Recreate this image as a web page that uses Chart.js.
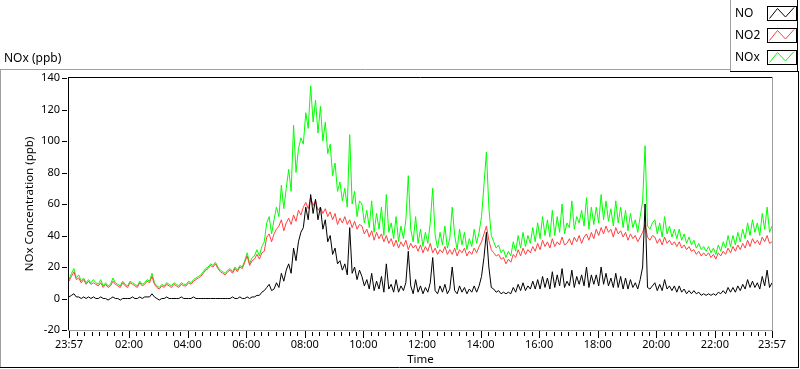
<!DOCTYPE html>
<html><head><meta charset="utf-8">
<script src="https://cdn.jsdelivr.net/npm/chart.js@4/dist/chart.umd.min.js"></script>
<style>html,body{margin:0;padding:0;background:#fff;overflow:hidden}#wrap{position:relative;width:800px;height:369px}</style>
</head><body><div id="wrap"><canvas id="c" width="800" height="369"></canvas></div>
<script>
// sampling interval of the values below (minutes since 23:57)
const STEP_MIN = 5;

const NO = [
1,2,3,1,1,0,1,0,1,0,1,0,
0,1,0,0,-1,0,1,0,0,-1,0,0,
0,0,1,0,0,1,0,1,1,1,3,1,
0,-1,0,0,1,0,0,0,0,0,1,0,
0,0,0,1,0,0,0,0,0,0,0,0,
0,0,0,0,0,0,0,1,0,0,1,0,
0,1,0,1,1,2,2,4,5,7,9,5,
6,10,7,16,11,18,22,16,32,24,36,42,
45,58,50,66,54,63,50,58,44,50,36,40,
28,32,22,24,18,22,15,45,16,20,12,18,
14,8,12,6,16,5,11,6,14,4,22,6,
9,4,12,4,8,5,10,30,8,3,12,4,
8,3,7,4,10,26,5,3,8,4,9,3,
6,20,5,3,8,4,7,3,6,4,8,4,
8,14,26,42,20,7,6,4,5,3,4,3,
4,3,7,4,9,5,10,5,8,6,11,6,
12,6,14,7,13,6,17,7,15,8,19,7,
11,8,18,7,14,9,15,8,20,7,15,9,
15,8,20,9,16,8,13,7,16,7,14,6,
13,6,12,7,10,6,12,20,60,7,6,8,
10,5,9,5,12,6,8,5,8,4,8,4,
6,3,5,3,5,3,4,2,3,2,3,2,
3,2,4,3,5,3,7,4,7,4,8,5,
9,6,12,7,11,7,10,6,14,8,18,7,10
];

const NO2 = [
11,14,17,12,13,10,12,9,11,9,10,9,
8,10,7,9,7,8,11,9,8,7,10,8,
7,10,9,8,7,10,8,9,11,10,14,9,
7,6,8,7,9,8,7,9,8,7,9,8,
8,10,9,11,12,13,14,16,18,19,21,20,
22,19,17,16,15,17,18,16,19,17,20,19,
23,27,21,24,25,28,25,29,30,39,41,36,
41,44,46,50,43,48,51,47,53,49,56,53,
58,61,57,64,59,62,56,58,54,57,52,55,
50,54,47,51,48,52,47,50,45,49,44,47,
46,41,44,39,43,37,42,38,41,36,40,35,
38,33,37,32,36,33,37,31,35,32,34,30,
34,29,33,30,35,29,32,28,31,29,33,28,
31,28,32,27,31,29,32,27,30,28,32,29,
33,36,41,46,37,31,29,27,28,25,26,22,
25,23,28,26,31,27,32,28,31,29,33,30,
35,31,37,33,36,32,38,33,36,34,39,34,
35,38,34,39,36,40,35,39,41,37,42,38,
44,40,45,41,46,42,44,39,45,41,43,39,
42,37,41,38,40,36,39,42,47,39,37,40,
39,35,38,34,39,35,37,34,36,33,36,32,
34,31,33,30,31,28,30,27,29,27,29,26,
28,25,29,27,30,28,32,29,33,30,34,31,
35,32,37,33,38,35,37,34,39,36,40,35,36
];

const NOX = [
12,16,19,13,15,11,13,10,12,10,12,10,
9,12,8,10,8,9,13,10,9,8,11,9,
8,11,10,9,8,11,9,10,12,11,16,10,
8,7,9,8,10,9,8,10,9,8,10,9,
9,11,10,12,13,14,15,17,19,20,22,21,
23,20,18,17,16,18,19,17,20,18,21,20,
24,29,22,26,27,31,27,33,36,48,52,41,
50,58,52,72,57,70,82,68,110,80,95,102,
98,118,108,135,112,126,105,122,100,112,92,98,
78,86,68,74,62,70,58,104,60,68,52,62,
60,48,56,45,62,42,54,44,58,40,66,42,
48,38,52,36,46,38,50,78,44,36,52,35,
44,33,42,35,48,70,40,32,42,34,46,32,
38,58,40,31,44,34,42,31,38,33,44,35,
42,52,72,93,58,40,36,32,34,29,31,26,
30,27,36,30,40,32,42,33,40,35,45,36,
48,38,52,40,50,39,56,40,52,42,60,41,
48,45,62,44,52,48,56,46,64,44,58,47,
58,48,66,50,62,49,57,46,62,48,58,45,
56,43,54,45,50,42,52,62,97,46,44,48,
50,41,48,39,52,41,46,39,44,38,44,37,
41,35,39,34,37,32,35,31,33,30,33,29,
32,28,34,30,36,32,40,33,40,34,42,36,
44,38,48,40,50,42,48,40,54,44,58,42,46
];

const SERIES_NAMES = ['NO', 'NO2', 'NOx'];
const TICK_MINUTES = [0, 123, 243, 363, 483, 603, 723, 843, 963, 1083, 1203, 1323, 1440];
const TICK_LABELS = ['23:57', '02:00', '04:00', '06:00', '08:00', '10:00', '12:00', '14:00', '16:00', '18:00', '20:00', '22:00', '23:57'];
const Y_MIN = -20, Y_MAX = 140, Y_STEP = 20;
const PANEL_TITLE = 'NOx (ppb)';
const Y_TITLE = 'NOx Concentration (ppb)';
const X_TITLE = 'Time';

const COLORS = ['#000000', '#ff4040', '#00ff00'];
const FONT = 'Noto Sans';

function toPoints(arr) { return arr.map((v, i) => ({ x: i * STEP_MIN, y: v })); }

const framePlugin = {
  id: 'frame',
  afterDraw(chart) {
    const ctx = chart.ctx, a = chart.chartArea, xs = chart.scales.x, ys = chart.scales.y;
    ctx.save();
    ctx.lineWidth = 1;
    const line = (x1, y1, x2, y2) => { ctx.beginPath(); ctx.moveTo(x1, y1); ctx.lineTo(x2, y2); ctx.stroke(); };
    // outer panel
    ctx.strokeStyle = '#a0a0a0';
    line(0, 69.5, 731, 69.5);
    line(0.5, 69, 0.5, 368);
    ctx.strokeStyle = '#000';
    line(0, 367.5, 799, 367.5);
    line(798.5, 71, 798.5, 368);
    // plot frame
    ctx.strokeStyle = '#000';
    line(a.left - 0.5, a.top - 1, a.left - 0.5, a.bottom + 1);
    line(a.left - 1, a.top - 0.5, a.right + 1, a.top - 0.5);
    ctx.strokeStyle = '#a0a0a0';
    line(a.right + 0.5, a.top - 1, a.right + 0.5, a.bottom + 1);
    line(a.left - 1, a.bottom + 0.5, a.right + 1, a.bottom + 0.5);
    // y tick marks
    ctx.strokeStyle = '#000';
    for (let v = Y_MIN; v <= Y_MAX; v += Y_STEP) {
      const y = Math.round(ys.getPixelForValue(v)) + 0.5;
      line(a.left - 7, y, a.left - 2, y);
    }
    // x tick marks (major + minor)
    for (let k = 0; k < TICK_MINUTES.length; k++) {
      const x = Math.round(xs.getPixelForValue(TICK_MINUTES[k])) + 0.5;
      line(x, a.bottom + 1, x, a.bottom + 8);
      if (k < TICK_MINUTES.length - 1) {
        const m0 = TICK_MINUTES[k], m1 = TICK_MINUTES[k + 1];
        for (let j = 1; j < 8; j++) {
          const xm = Math.round(xs.getPixelForValue(m0 + (m1 - m0) * j / 8)) + 0.5;
          line(xm, a.bottom + 2, xm, a.bottom + 6);
        }
      }
    }
    // panel title
    ctx.fillStyle = '#000';
    ctx.font = '12px "' + FONT + '"';
    ctx.textBaseline = 'middle';
    ctx.textAlign = 'left';
    ctx.fillText(PANEL_TITLE, 4, 59);
    // legend box
    ctx.fillStyle = '#fff';
    ctx.fillRect(731, 0, 67, 71);
    ctx.strokeStyle = '#a0a0a0';
    line(730.5, 0, 730.5, 72);
    ctx.strokeStyle = '#000';
    line(730, 71.5, 798, 71.5);
    line(797.5, 0, 797.5, 72);
    const rows = [13.5, 36, 58];
    const boxes = [6, 28, 50];
    for (let k = 0; k < SERIES_NAMES.length; k++) {
      ctx.fillStyle = '#000';
      ctx.fillText(SERIES_NAMES[k], 735, rows[k]);
      const bx = 767, by = boxes[k];
      ctx.strokeStyle = '#000';
      ctx.strokeRect(bx + 0.5, by + 0.5, 29, 14);
      ctx.strokeStyle = COLORS[k];
      ctx.beginPath();
      ctx.moveTo(bx + 2.5, by + 12.5);
      ctx.lineTo(bx + 10.5, by + 2.5);
      ctx.lineTo(bx + 18.5, by + 11);
      ctx.lineTo(bx + 27, by + 1.5);
      ctx.stroke();
    }
    ctx.restore();
  }
};

const seriesValues = [NO, NO2, NOX];

new Chart(document.getElementById('c'), {
  type: 'line',
  data: {
    datasets: SERIES_NAMES.map((name, k) => ({
      label: name,
      data: toPoints(seriesValues[k]),
      borderColor: COLORS[k],
      backgroundColor: COLORS[k],
      borderWidth: 1,
      pointRadius: 0,
      tension: 0,
      fill: false
    }))
  },
  options: {
    responsive: false,
    animation: false,
    devicePixelRatio: 1,
    layout: { padding: { top: 78, right: 28, left: 0, bottom: 0 } },
    plugins: { legend: { display: false }, tooltip: { enabled: false } },
    scales: {
      x: {
        type: 'linear', min: 0, max: 1440,
        afterBuildTicks: s => { s.ticks = TICK_MINUTES.map(v => ({ value: v })); },
        afterFit: s => { s.height = 39; },
        grid: { display: false, drawTicks: false },
        border: { display: false },
        ticks: {
          autoSkip: false, maxRotation: 0, padding: 8, color: '#000',
          font: { family: FONT, size: 11 },
          callback: (v, i) => TICK_LABELS[i]
        },
        title: { display: true, text: X_TITLE, color: '#000', font: { family: FONT, size: 11.5 }, padding: { top: 0, bottom: 2 } }
      },
      y: {
        min: Y_MIN, max: Y_MAX,
        afterFit: s => { s.width = 69; },
        grid: { display: false, drawTicks: false },
        border: { display: false },
        ticks: { stepSize: Y_STEP, padding: 9, color: '#000', font: { family: FONT, size: 11 } },
        title: { display: true, text: Y_TITLE, color: '#000', font: { family: FONT, size: 11.5 }, padding: { top: 23, bottom: 0 } }
      }
    }
  },
  plugins: [framePlugin]
});
</script>
</body></html>
